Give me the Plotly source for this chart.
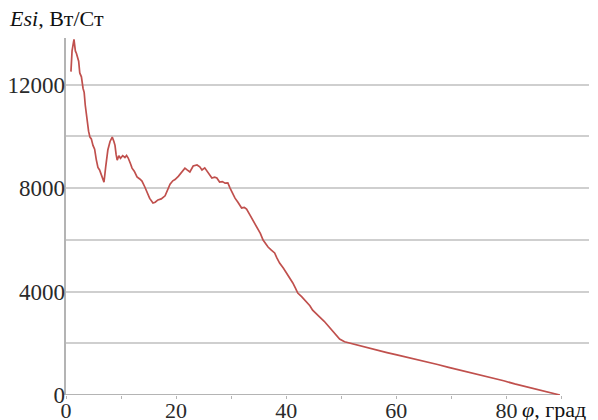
import plotly.graph_objects as go

phi = [0.9, 1.1, 1.45, 1.7, 1.9, 2.1, 2.3, 2.5, 2.8, 3.1, 3.3, 3.5, 3.8, 4.1, 4.35, 4.6, 4.9, 5.2, 5.5, 5.8,
       6.1, 6.5, 6.9, 7.2, 7.6, 8.0, 8.4, 8.7, 8.9, 9.1, 9.3, 9.6, 9.9, 10.3, 10.7, 11.0, 11.3, 11.7, 12.0, 12.4,
       12.9, 13.4, 13.8, 14.3, 14.7, 15.2, 15.8, 16.2, 16.7, 17.3, 18.0, 18.5, 18.9, 19.4, 19.8, 20.4, 21.0, 21.6,
       22.0, 22.5, 23.1, 23.8, 24.3, 24.7, 25.2, 25.8, 26.2, 26.5, 27.0, 27.4, 27.9, 28.4, 28.9, 29.4, 29.8, 30.1,
       30.7, 31.2, 31.9, 32.4, 32.8, 33.4, 34.0, 34.7, 35.3, 35.8, 36.3, 36.7, 37.3, 37.9, 38.3, 38.8, 39.5, 40.1,
       40.7, 41.2, 41.7, 42.1, 42.8, 43.7, 44.3, 44.8, 45.5, 46.1, 46.9, 47.9, 48.8, 49.7, 50.6, 51.5, 53.0, 54.6,
       56.5, 58.3, 60.1, 62.0, 63.8, 65.5, 67.5, 69.5, 71.5, 73.5, 75.5, 77.5, 79.5, 81.5, 83.7, 85.8, 87.8, 89.7]
esi = [12500, 13300, 13750, 13300, 13200, 13000, 12900, 12450, 12300, 11850, 11700, 11200, 10600, 10200, 9970,
       9900, 9650, 9500, 9100, 8800, 8700, 8430, 8230, 8800, 9470, 9800, 9970, 9800, 9650, 9300, 9080, 9250, 9150,
       9250, 9180, 9260, 9160, 8950, 8770, 8650, 8430, 8350, 8270, 8050, 7850, 7600, 7420, 7450, 7540, 7580, 7700,
       7950, 8150, 8280, 8330, 8450, 8620, 8770, 8700, 8620, 8850, 8890, 8820, 8700, 8780, 8620, 8500, 8390, 8420,
       8390, 8230, 8250, 8190, 8200, 8000, 7850, 7610, 7460, 7230, 7250, 7190, 6960, 6750, 6490, 6250, 5990, 5850,
       5720, 5600, 5490, 5300, 5100, 4900, 4710, 4500, 4330, 4120, 3940, 3800, 3590, 3450, 3280, 3150, 3010, 2850,
       2600, 2350, 2160, 2060, 2010, 1910, 1820, 1730, 1640, 1550, 1460, 1370, 1280, 1180, 1070, 970, 870, 760,
       660, 550, 430, 310, 200, 100, 0]

y_label_vals = [0, 4000, 8000, 12000]
y_label_text = ["0", "4000", "8000", "12000"]
y_grid_vals = [2000, 4000, 6000, 8000, 10000, 12000]
x_label_vals = [0, 20, 40, 60, 80]

FONT = "Liberation Serif"
GRID = "#cfcfcf"
AXIS = "#b4b4b4"
TXT = "#2a2a2a"

fig = go.Figure()
fig.add_trace(go.Scatter(x=phi, y=esi, mode="lines",
                         line=dict(color="#c0504d", width=1.7), yaxis="y", hoverinfo="skip"))
fig.add_trace(go.Scatter(x=[phi[0]], y=[esi[0]], mode="lines", yaxis="y2",
                         line=dict(width=0), hoverinfo="skip", showlegend=False))

fig.update_layout(
    width=590, height=412,
    margin=dict(l=58, r=9, t=30, b=25, autoexpand=False),
    paper_bgcolor="white", plot_bgcolor="white",
    showlegend=False,
    font=dict(family=FONT, size=23, color=TXT),
    xaxis=dict(range=[0, 95], tickvals=x_label_vals, showgrid=False, zeroline=False,
               showline=False, ticks="outside", ticklen=3, tickcolor=AXIS, automargin=False,
               ticklabelstandoff=-7,
               minor=dict(dtick=10, tick0=0, ticks="outside", ticklen=3, tickcolor=AXIS),
               tickfont=dict(family=FONT, size=22, color=TXT)),
    yaxis=dict(range=[0, 13800], tickvals=y_grid_vals, showticklabels=False, automargin=False,
               showgrid=True, gridcolor=GRID, gridwidth=2, zeroline=False,
               showline=True, linecolor=AXIS, linewidth=1.5, ticks=""),
    yaxis2=dict(overlaying="y", matches="y", side="left", tickvals=y_label_vals,
                ticktext=y_label_text, automargin=False,
                showgrid=False, zeroline=False, showline=False, ticks="",
                tickfont=dict(family=FONT, size=23, color=TXT)),
)

fig.add_shape(type="line", xref="x", yref="y", x0=0, x1=phi[-1], y0=0, y1=0,
              line=dict(color=AXIS, width=2), layer="below")

fig.add_annotation(text="<i>Esi</i>, Вт/Ст", xref="paper", yref="paper",
                   x=-0.113, y=1.055, xanchor="left", yanchor="middle", showarrow=False,
                   font=dict(family=FONT, size=22, color="#111"))
fig.add_annotation(text="<i>φ</i>, град", xref="paper", yref="paper",
                   x=0.868, y=-0.04, xanchor="left", yanchor="middle", showarrow=False,
                   font=dict(family=FONT, size=22, color="#111"))

fig.write_html("out.html")
